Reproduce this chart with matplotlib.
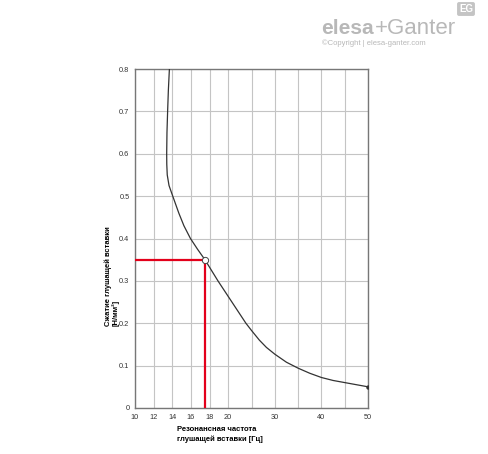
"""
Resonance frequency vs compression chart (elesa+Ganter style)
"""

import matplotlib.pyplot as plt
import numpy as np

# curve
freq = [13.69, 13.58, 13.5, 13.43, 13.4, 13.41, 13.46, 13.65, 14.05, 14.7, 15.25,
        15.95, 16.7, 17.5, 18.9, 20.8, 23.8, 25.0, 26.7, 28.2, 30.0, 32.5,
        35.0, 37.5, 40.0, 42.5, 45.0, 47.5, 50.0]
comp = [0.80, 0.75, 0.70, 0.65, 0.60, 0.575, 0.55, 0.525, 0.50, 0.46, 0.43,
        0.40, 0.375, 0.35, 0.30, 0.25, 0.20, 0.183, 0.160, 0.143, 0.127, 0.108,
        0.094, 0.082, 0.072, 0.065, 0.060, 0.055, 0.05]

# example reading shown in red
pick_f = 17.5
pick_c = 0.35

x_ticks = [10, 12, 14, 16, 18, 20, 30, 40, 50]
x_minor = [25, 35, 45]
y_ticks = [0, 0.1, 0.2, 0.3, 0.4, 0.5, 0.6, 0.7, 0.8]
y_ticklabels = ['0', '0.1', '0.2', '0.3', '0.4', '0.5', '0.6', '0.7', '0.8']


def fwd(x):
    x = np.asarray(x, dtype=float)
    return np.where(x <= 20, x, 20 + (x - 20) / 2)


def inv(y):
    y = np.asarray(y, dtype=float)
    return np.where(y <= 20, y, 20 + (y - 20) * 2)


plt.rcParams['font.family'] = ['Liberation Sans', 'DejaVu Sans']

fig = plt.figure(figsize=(4.88, 4.54), dpi=100)
ax = fig.add_axes([135 / 488, 1 - 408 / 454, 233 / 488, 339 / 454])

ax.set_xscale('function', functions=(fwd, inv))
ax.set_xlim(10, 50)
ax.set_ylim(0, 0.8)

ax.set_xticks(x_ticks)
ax.set_xticklabels([str(t) for t in x_ticks])
ax.set_xticks(x_minor, minor=True)
ax.set_yticks(y_ticks)
ax.set_yticklabels(y_ticklabels)
ax.tick_params(which='both', length=0, labelsize=5.3, labelcolor='#333333', pad=4)
ax.grid(which='both', color='#c4c4c4', linewidth=0.8)
ax.set_axisbelow(True)
for s in ax.spines.values():
    s.set_color('#777777')
    s.set_linewidth(1.0)

ax.plot([10, pick_f], [pick_c, pick_c], color='#e3001b', lw=1.6, solid_capstyle='butt', zorder=3)
ax.plot([pick_f, pick_f], [0, pick_c], color='#e3001b', lw=1.6, solid_capstyle='butt', zorder=3)

ax.plot(freq, comp, color='#333333', lw=0.9, zorder=4)
ax.plot(freq[-1], comp[-1], 'o', color='#333333', ms=2.2, zorder=5)
ax.plot(pick_f, pick_c, 'o', mfc='white', mec='#444444', mew=0.7, ms=4.5, zorder=6)

ax.set_ylabel('Сжатие глушащей вставки\n[Н/мм²]', fontsize=5.5, fontweight='bold',
              multialignment='left', linespacing=0.95)
ax.yaxis.set_label_coords(-0.068, 0.39)

fig.text(177 / 488, 1 - 426 / 454, 'Резонансная частота\nглушащей вставки [Гц]',
         fontsize=5.5, fontweight='bold', ha='left', va='top', linespacing=1.5)

# watermark
fig.text(321 / 488, 1 - 34 / 454, 'elesa', fontsize=15, fontweight='bold',
         color='#b8b8b8', ha='left', va='baseline')
fig.text(375 / 488, 1 - 34 / 454, '+Ganter', fontsize=16, color='#b8b8b8',
         ha='left', va='baseline')
fig.text(322 / 488, 1 - 45 / 454, '©Copyright | elesa-ganter.com', fontsize=5.5,
         color='#b8b8b8', ha='left', va='baseline')
fig.text(466 / 488, 1 - 9 / 454, 'EG', fontsize=7, fontweight='bold', color='white',
         ha='center', va='center',
         bbox=dict(boxstyle='round,pad=0.2', fc='#c4c4c4', ec='none'))

fig.savefig('out.png', dpi=100)
